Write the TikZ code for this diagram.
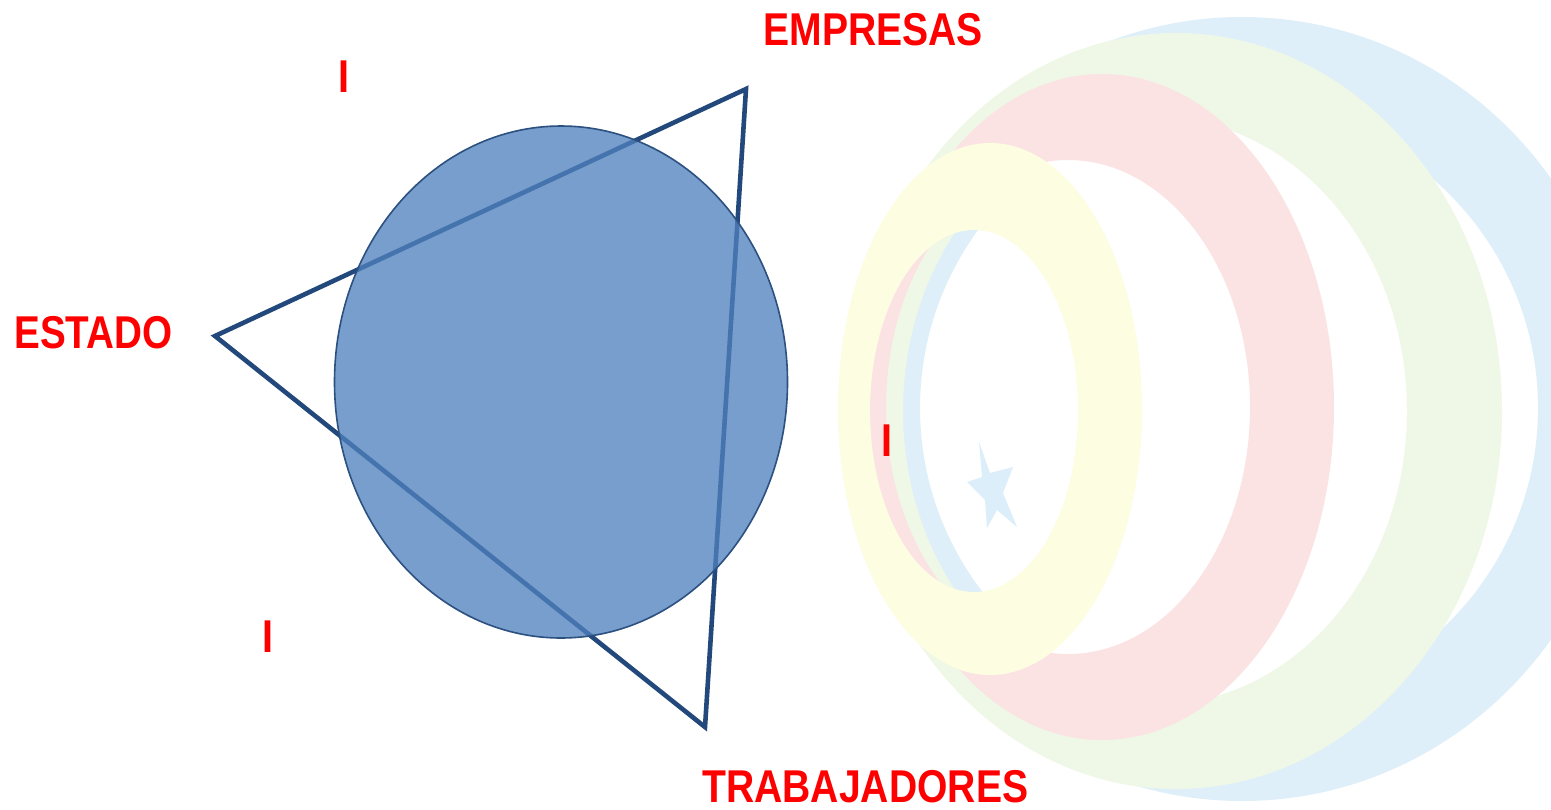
\documentclass[tikz,border=0pt]{standalone}
\usepackage{fontspec}
\setmainfont{Liberation Sans}
\usepackage{graphicx}
\definecolor{ringyellow}{HTML}{FDFDE2}
\definecolor{ringpink}{HTML}{FBE3E4}
\definecolor{ringgreen}{HTML}{EFF7E6}
\definecolor{ringblue}{HTML}{DEEFF9}
\definecolor{starblue}{HTML}{DCEEF9}
\definecolor{triblue}{HTML}{22487C}
\definecolor{ellfill}{HTML}{4F81BD}
\definecolor{ellline}{HTML}{2C5080}
\begin{document}
\begin{tikzpicture}[x=0.5pt,y=-0.5pt,
  lbl/.style={inner sep=0pt, text=red, font=\fontsize{23}{27}\selectfont\bfseries},
  ring/.style={even odd rule},
  tri/.style={draw=triblue, line width=2.3pt, line join=miter},
  bigell/.style={fill=ellfill, fill opacity=0.77, draw=ellline, line width=0.8pt}]
\useasboundingbox (0,0) rectangle (1551,809);
\fill[white] (0,0) rectangle (1551,809);
% background logo rings
\fill[ring, ringblue] (1242,409) ellipse [x radius=191pt, y radius=196pt]
                      (1229,408) ellipse [x radius=154.5pt, y radius=152.5pt];
\fill[ring, ringgreen] (1176,411) ellipse [x radius=163pt, y radius=189pt]
                       (1155,411) ellipse [x radius=126pt, y radius=147pt];
\fill[ring, ringpink] (1102,407) ellipse [x radius=116pt, y radius=166.5pt]
                      (1068,407) ellipse [x radius=91pt, y radius=123.5pt];
\fill[ring, ringyellow] (990,409) ellipse [x radius=76pt, y radius=133pt]
                        (974,411) ellipse [x radius=52pt, y radius=90.5pt];
\fill[starblue] (979,442) -- (990,473) -- (1013,467) -- (1003,493) -- (1017,527)
  -- (997,510) -- (987,528) -- (985,500) -- (967,482) -- (982,477) -- cycle;
% triangle and ellipse
\coordinate (vE) at (215,336);
\coordinate (vM) at (746,89);
\coordinate (vT) at (705,727);
\draw[tri] (vE) -- (vM) -- (vT) -- cycle;
\path[bigell] (561,382) ellipse [x radius=113.25pt, y radius=128pt];
% labels
\node[lbl, anchor=base west] (empresas) at (763,45) {\scalebox{0.85}[1]{EMPRESAS}};
\node[lbl, anchor=base west] (estado) at (14,348) {\scalebox{0.84}[1]{ESTADO}};
\node[lbl, anchor=base west] (trabajadores) at (702,802) {\scalebox{0.85}[1]{TRABAJADORES}};
\node[lbl, anchor=base] (i1) at (344,92) {\scalebox{0.86}[1]{I}};
\node[lbl, anchor=base] (i2) at (268,652) {\scalebox{0.86}[1]{I}};
\node[lbl, anchor=base] (i3) at (887,456) {\scalebox{0.86}[1]{I}};
\end{tikzpicture}
\end{document}
